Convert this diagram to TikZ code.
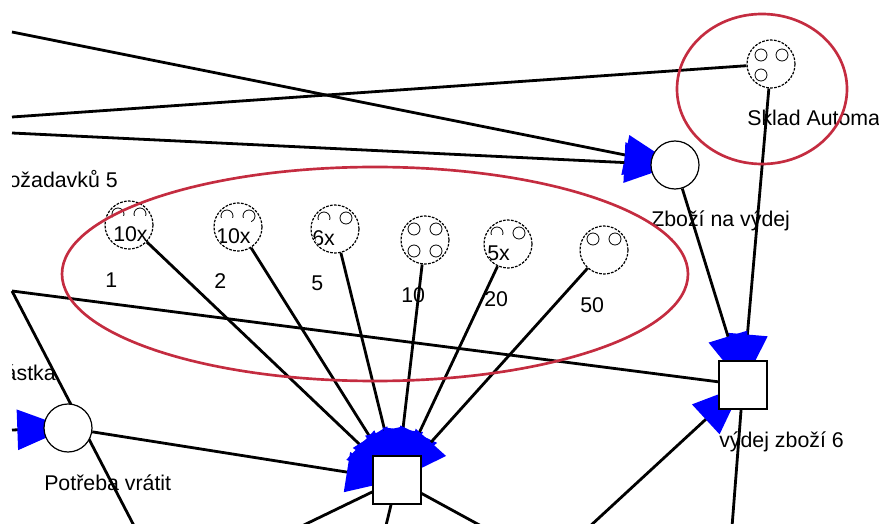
\documentclass[tikz,border=0pt]{standalone}
\usepackage{fontspec}
\setmainfont{Liberation Sans}
\usetikzlibrary{arrows.meta,calc}

\definecolor{ringred}{RGB}{196,44,64}

% arcs run under the nodes, names under the arcs
\pgfdeclarelayer{arcs}
\pgfdeclarelayer{texts}
\pgfsetlayers{texts,arcs,main}

\tikzset{
  place/.style={circle, draw, fill=white, minimum size=36pt, inner sep=0pt, line width=0.9pt},
  marked/.style={dash pattern=on 2pt off 1pt},
  trans/.style={rectangle, draw, fill=white, minimum size=36pt, inner sep=0pt, line width=1pt},
  flow/.style={line width=2.1pt},
  feed/.style={flow, -{Triangle[length=38pt,width=30pt,color=blue]}},
  token/.style={line width=0.6pt},
  lbl/.style={font=\fontsize{16}{19}\selectfont, inner sep=0pt, anchor=base west},
  count/.style={lbl, fill=white, text height=19.5pt, text depth=1pt},
  ring/.style={ringred, line width=2pt}
}

\begin{document}
\begin{tikzpicture}[x=0.75pt,y=-0.75pt]
    \useasboundingbox (0,0) rectangle (879,524);

    % places
    \node[place,marked] (pSklad) at (771,64) {};
    \node[place] (pVydej) at (675,165) {};
    \node[place] (pVratit) at (68,428) {};
    \node[place,marked] (p1)  at (129,225) {};
    \node[place,marked] (p2)  at (238,227) {};
    \node[place,marked] (p5)  at (335,229) {};
    \node[place,marked] (p10) at (425,240) {};
    \node[place,marked] (p20) at (508,244) {};
    \node[place,marked] (p50) at (604,250) {};

    % transitions
    \node[trans] (tVydej) at (743,385) {};
    \node[trans] (tVraceni) at (397,480) {};

    % loose ends outside the frame
    \coordinate (wA) at (12,32);
    \coordinate (wB) at (12,117);
    \coordinate (wC) at (12,133);
    \coordinate (wD) at (12,291);
    \coordinate (wE) at (12,430);
    \coordinate (sB) at (144,545);
    \coordinate (sC) at (277,538);
    \coordinate (sD) at (383,538);
    \coordinate (sE) at (505,539);
    \coordinate (sF) at (575,540);
    \coordinate (sG) at (731,540);

    % tokens
    \foreach \dx/\dy in {-10/-9,11/-9,-10/11}
        \draw[token] ($(pSklad)+(\dx,\dy)$) circle (6);
    \foreach \p in {p1,p2,p5,p20,p50}
        \draw[token] ($(\p)+(-11,-11)$) circle (6) ($(\p)+(11,-11)$) circle (6);
    \foreach \dx/\dy in {-11/-11,11/-11,-11/11,11/11}
        \draw[token] ($(p10)+(\dx,\dy)$) circle (6);
    \foreach \p/\n/\dx in {p1/10x/-16,p2/10x/-22,p5/6x/-23,p20/5x/-21} {
        \begin{scope}
            \clip (\p) circle (23);
            \node[count] at ($(\p)+(\dx,17)$) {\n};
        \end{scope}
    }

    \begin{pgfonlayer}{arcs}
        \draw[feed] (wA) -- (pVydej.center);
        \draw[feed] (wC) -- (pVydej.center);
        \draw[flow] (pSklad) -- (wB);
        \draw[feed] (pSklad) -- (tVydej.center);
        \draw[feed] (pVydej) -- (tVydej.center);
        \draw[feed] (sF) -- (tVydej.center);
        \draw[flow] (wD) -- (tVydej.center);
        \draw[flow] (tVydej) -- (sG);
        \draw[flow] (wD) -- (sB);
        \draw[feed] (wE) -- (pVratit.center);
        \draw[feed] (pVratit) -- (tVraceni.center);
        \foreach \p in {p1,p2,p5,p10,p20,p50}
            \draw[feed] (\p) -- (tVraceni.center);
        \draw[flow] (tVraceni) -- (sC);
        \draw[flow] (tVraceni) -- (sD);
        \draw[flow] (tVraceni) -- (sE);
    \end{pgfonlayer}

    \begin{pgfonlayer}{texts}
        \clip (12,0) rectangle (879,524);
        \node[lbl] at ($(pSklad)+(-24,62)$) {Sklad Automa};
        \node[lbl] at ($(pVydej)+(-24,62)$) {Zboží na výdej};
        \node[lbl] at ($(pVratit)+(-24,62)$) {Potřeba vrátit};
        \node[lbl] at ($(tVydej)+(-24,62)$) {výdej zboží 6};
        \foreach \p/\n in {p1/1,p2/2,p5/5,p10/10,p20/20,p50/50}
            \node[lbl] at ($(\p)+(-24,62)$) {\n};
        \node[lbl, anchor=base east] at (118,188) {ožadavků 5};
        \node[lbl, anchor=base east] at (56,380) {ástka};
    \end{pgfonlayer}

    % highlighted groups
    \draw[ring] (762,89) ellipse (85 and 75);
    \draw[ring] (375,274) ellipse (313 and 107);
\end{tikzpicture}
\end{document}
